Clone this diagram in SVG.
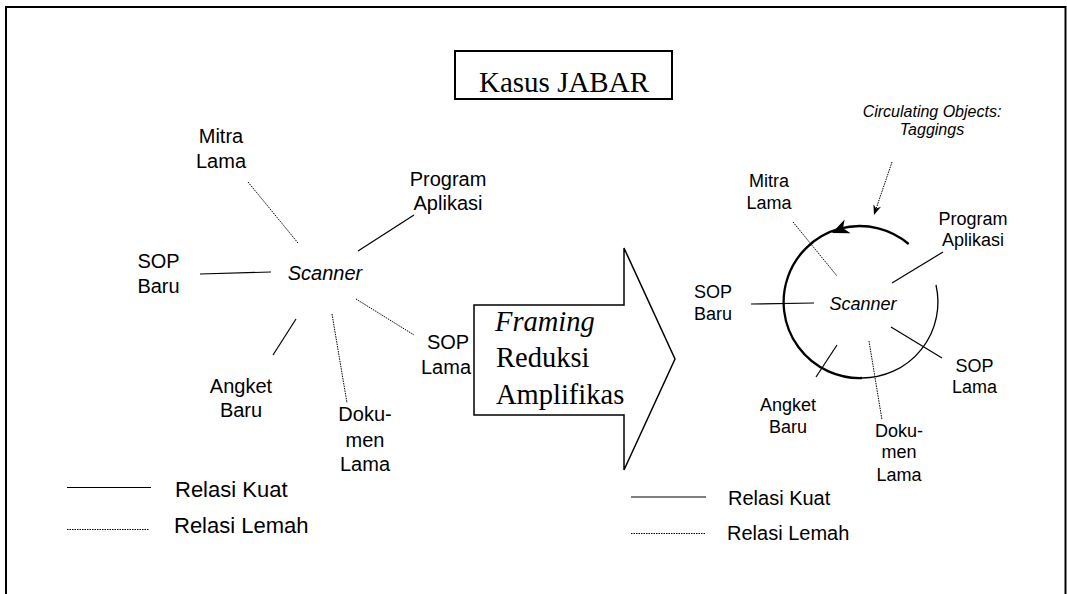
<svg xmlns="http://www.w3.org/2000/svg" width="1067" height="594" viewBox="0 0 1067 594">
<style>
.s{font-family:"Liberation Sans",Arial,sans-serif;fill:#000}
.L{font-size:20px}
.R{font-size:18px}
.t{font-family:"Liberation Serif","Times New Roman",serif;fill:#000}
.strong{stroke:#000;stroke-width:1.2;fill:none}
.weak{stroke:#000;stroke-width:1;stroke-dasharray:1.5 1;fill:none}
</style>
<rect width="1067" height="594" fill="#fff"/>
<g id="frame">
<path d="M6 594 V7 H1065.5 V594" fill="none" stroke="#000" stroke-width="2"/>
</g>
<g id="title">
<rect x="455" y="51" width="217" height="48" fill="#fff" stroke="#000" stroke-width="2"/>
<text class="t" x="564" y="92" font-size="29" text-anchor="middle">Kasus JABAR</text>
</g>
<g id="connectors">
<line class="weak" x1="248" y1="182" x2="298" y2="243"/>
<line class="strong" x1="414" y1="215" x2="358" y2="251"/>
<line class="strong" x1="200" y1="274" x2="271" y2="272"/>
<line class="weak" x1="356" y1="299" x2="414" y2="335"/>
<line class="strong" x1="296" y1="319" x2="273" y2="355"/>
<line class="weak" x1="332" y1="314" x2="347" y2="403"/>
<line class="weak" x1="793" y1="222" x2="837" y2="276"/>
<line class="strong" x1="943" y1="252" x2="892" y2="283"/>
<line class="strong" x1="751" y1="304" x2="814" y2="303"/>
<line class="strong" x1="891" y1="327" x2="942" y2="358"/>
<line class="strong" x1="837" y1="345" x2="816" y2="377"/>
<line class="weak" x1="869" y1="341" x2="882" y2="420"/>
<line class="weak" x1="892" y1="162" x2="876.2" y2="208.4"/>
<polygon points="874,215 873.4,204.2 876.2,208.4 881,206.8" fill="#000"/>
<path d="M908.7 244 A76 76 0 1 0 862 378" fill="none" stroke="#000" stroke-width="2.3"/>
<path d="M862 378 A76 76 0 0 0 936 285" fill="none" stroke="#000" stroke-width="1.3"/>
<polygon points="832,233 844.6,219.5 843,228.3 850.6,233.2" fill="#000"/>
</g>
<g id="node-left-scanner"><text class="s L" x="325" y="280" font-style="italic" text-anchor="middle">Scanner</text></g>
<g id="node-left-mitra"><text class="s L" text-anchor="middle"><tspan x="221" y="143">Mitra</tspan><tspan x="221" y="168">Lama</tspan></text></g>
<g id="node-left-program"><text class="s L" text-anchor="middle"><tspan x="448" y="186">Program</tspan><tspan x="448" y="210">Aplikasi</tspan></text></g>
<g id="node-left-sopbaru"><text class="s L" text-anchor="middle"><tspan x="158.5" y="268">SOP</tspan><tspan x="158.5" y="293">Baru</tspan></text></g>
<g id="node-left-soplama"><text class="s L" text-anchor="middle"><tspan x="448" y="349">SOP</tspan><tspan x="446" y="374">Lama</tspan></text></g>
<g id="node-left-angket"><text class="s L" text-anchor="middle"><tspan x="241" y="393">Angket</tspan><tspan x="241" y="417">Baru</tspan></text></g>
<g id="node-left-dokumen"><text class="s L" text-anchor="middle"><tspan x="365" y="421">Doku-</tspan><tspan x="365" y="447">men</tspan><tspan x="365" y="471">Lama</tspan></text></g>
<g id="node-arrow">
<polygon points="474,305 624,305 624,248 675,359 624,470 624,415 474,415" fill="#fff" stroke="#000" stroke-width="1.5"/>
<text class="t" x="495" y="331" font-size="28.5" font-style="italic">Framing</text>
<text class="t" x="496" y="367" font-size="28.5">Reduksi</text>
<text class="t" x="496" y="404" font-size="28.5">Amplifikas</text>
</g>
<g id="node-circulating"><text class="s" font-size="16" font-style="italic" text-anchor="middle"><tspan x="932" y="117">Circulating Objects:</tspan><tspan x="932" y="135">Taggings</tspan></text></g>
<g id="node-right-scanner"><text class="s R" x="863" y="310" font-style="italic" text-anchor="middle">Scanner</text></g>
<g id="node-right-mitra"><text class="s R" text-anchor="middle"><tspan x="769" y="187">Mitra</tspan><tspan x="769" y="209">Lama</tspan></text></g>
<g id="node-right-program"><text class="s R" text-anchor="middle"><tspan x="973" y="225">Program</tspan><tspan x="973" y="246">Aplikasi</tspan></text></g>
<g id="node-right-sopbaru"><text class="s R" text-anchor="middle"><tspan x="713" y="298">SOP</tspan><tspan x="713" y="320">Baru</tspan></text></g>
<g id="node-right-soplama"><text class="s R" text-anchor="middle"><tspan x="974.5" y="372">SOP</tspan><tspan x="974.5" y="393">Lama</tspan></text></g>
<g id="node-right-angket"><text class="s R" text-anchor="middle"><tspan x="788" y="411">Angket</tspan><tspan x="788" y="433">Baru</tspan></text></g>
<g id="node-right-dokumen"><text class="s R" text-anchor="middle"><tspan x="899" y="437">Doku-</tspan><tspan x="899" y="458">men</tspan><tspan x="899" y="481">Lama</tspan></text></g>
<g id="legend-left">
<line class="strong" x1="67" y1="487.5" x2="151" y2="487.5"/>
<text class="s" x="175" y="497" font-size="22">Relasi Kuat</text>
<line class="weak" x1="67" y1="529.5" x2="149" y2="529.5"/>
<text class="s" x="174" y="533" font-size="22">Relasi Lemah</text>
</g>
<g id="legend-right">
<line class="strong" x1="631" y1="497" x2="706" y2="497" stroke="#444"/>
<text class="s" x="728" y="505" font-size="20">Relasi Kuat</text>
<line class="weak" x1="631" y1="533.5" x2="705" y2="533.5"/>
<text class="s" x="727" y="540" font-size="20">Relasi Lemah</text>
</g>
</svg>
